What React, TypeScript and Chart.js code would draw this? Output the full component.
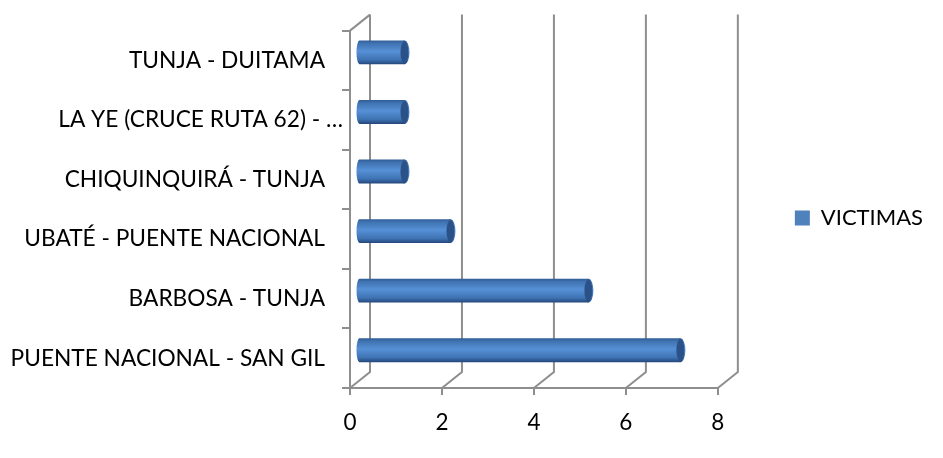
import React, { useEffect, useRef } from "react";
import { Chart, registerables } from "chart.js";

Chart.register(...registerables);

const categories = [
  "TUNJA - DUITAMA",
  "LA YE (CRUCE RUTA 62) - …",
  "CHIQUINQUIRÁ - TUNJA",
  "UBATÉ - PUENTE NACIONAL",
  "BARBOSA - TUNJA",
  "PUENTE NACIONAL - SAN GIL",
];
const victimas = [1, 1, 1, 2, 5, 7];
const seriesName = "VICTIMAS";
const FONT = "Lato, 'Open Sans', sans-serif";
const GRID = "#8e8e8e";
const SWATCH = "#4f81bd";
const DEPTH_X = 20;
const DEPTH_Y = 16;
const SHIFT_X = 8.5;
const SHIFT_Y = 8;
const TRUNCATED_LABEL_SHIFT = 18;
const LEGEND_SHIFT = 25;

function barGradient(c: CanvasRenderingContext2D, top: number, bottom: number) {
  const g = c.createLinearGradient(0, top, 0, bottom);
  g.addColorStop(0, "#2f5b94");
  g.addColorStop(0.12, "#3f72b0");
  g.addColorStop(0.45, "#5690d6");
  g.addColorStop(0.8, "#3f74b4");
  g.addColorStop(1, "#24467a");
  return g;
}

const wallsPlugin = {
  id: "walls",
  afterLayout(chart: any) {
    chart.legend.top -= LEGEND_SHIFT;
    chart.legend.bottom -= LEGEND_SHIFT;
  },
  beforeDraw(chart: any) {
    // the clipped label overhangs the right-aligned column, as in the source chart
    const items = chart.scales.y.getLabelItems();
    const item = items.find((i: any) => String(i.label).endsWith("…"));
    if (item && !item.shifted) {
      item.options.translation[0] += TRUNCATED_LABEL_SHIFT;
      item.shifted = true;
    }
  },
  beforeDatasetsDraw(chart: any) {
    const { ctx, chartArea, scales } = chart;
    ctx.save();
    ctx.strokeStyle = GRID;
    ctx.lineWidth = 2;
    scales.x.ticks.forEach((t: any) => {
      const x = scales.x.getPixelForValue(t.value);
      ctx.beginPath();
      ctx.moveTo(x, chartArea.bottom);
      ctx.lineTo(x + DEPTH_X, chartArea.bottom - DEPTH_Y);
      ctx.lineTo(x + DEPTH_X, chartArea.top - DEPTH_Y);
      ctx.stroke();
    });
    ctx.beginPath();
    ctx.moveTo(chartArea.left, chartArea.top);
    ctx.lineTo(chartArea.left + DEPTH_X, chartArea.top - DEPTH_Y);
    ctx.stroke();
    ctx.restore();
  },
};

const cylinderPlugin = {
  id: "cylinder",
  beforeDatasetDraw(chart: any) {
    chart.ctx.save();
    chart.ctx.translate(SHIFT_X, -SHIFT_Y);
  },
  afterDatasetDraw(chart: any, args: any) {
    const { ctx } = chart;
    args.meta.data.forEach((el: any) => {
      const h = el.height / 2;
      ctx.fillStyle = barGradient(ctx, el.y - h, el.y + h);
      ctx.beginPath();
      ctx.ellipse(el.base, el.y, 3, h, 0, 0, Math.PI * 2);
      ctx.fill();
      ctx.fillStyle = barGradient(ctx, el.y - h, el.y + h);
      ctx.beginPath();
      ctx.ellipse(el.x, el.y, 5, h, 0, 0, Math.PI * 2);
      ctx.fill();
      ctx.fillStyle = "#2b5288";
      ctx.beginPath();
      ctx.ellipse(el.x, el.y, 4, h - 1, 0, 0, Math.PI * 2);
      ctx.fill();
    });
    ctx.restore();
  },
};

export default function App() {
  const ref = useRef<HTMLCanvasElement>(null);
  useEffect(() => {
    const chart = new Chart(ref.current!, {
      type: "bar",
      data: {
        labels: categories,
        datasets: [
          {
            label: seriesName,
            data: victimas,
            barPercentage: 0.4,
            categoryPercentage: 1,
            backgroundColor: (c: any) => {
              if (c.dataIndex === undefined || !c.chart.scales?.y) return SWATCH;
              const y = c.chart.scales.y.getPixelForValue(c.dataIndex);
              if (!Number.isFinite(y)) return SWATCH;
              return barGradient(c.chart.ctx, y - 12, y + 12);
            },
          },
        ],
      },
      plugins: [wallsPlugin, cylinderPlugin],
      options: {
        indexAxis: "y",
        responsive: false,
        animation: false,
        layout: { padding: { top: 28, right: 10, bottom: 0, left: 0 } },
        plugins: {
          tooltip: { enabled: false },
          legend: {
            position: "right",
            labels: {
              boxWidth: 15,
              boxHeight: 15,
              padding: 77,
              color: "#000",
              font: { family: FONT, size: 22 },
              generateLabels: (c: any) =>
                Chart.defaults.plugins.legend.labels.generateLabels(c).map((l: any) => ({ ...l, fillStyle: SWATCH })),
            },
          },
        },
        scales: {
          x: {
            min: 0,
            max: 8,
            afterFit: (s: any) => { s.height = 70; },
            ticks: { stepSize: 2, padding: 14, color: "#000", font: { family: FONT, size: 22.5 }, maxRotation: 0 },
            border: { color: GRID, width: 2 },
            grid: { drawOnChartArea: false, drawTicks: true, tickLength: 7, color: GRID, lineWidth: 2 },
          },
          y: {
            afterFit: (s: any) => { s.width = 350; },
            ticks: { padding: 17, color: "#000", font: { family: FONT, size: 22.7 }, autoSkip: false },
            border: { color: GRID, width: 2 },
            grid: { drawOnChartArea: false, drawTicks: true, tickLength: 8, color: GRID, lineWidth: 2 },
          },
        },
      },
    } as any);
    return () => chart.destroy();
  }, []);
  return (
    <div style={{ position: "fixed", left: 0, top: 0, width: 943, height: 458, background: "#fff" }}>
      <canvas ref={ref} width={943} height={458} style={{ display: "block" }} />
    </div>
  );
}
